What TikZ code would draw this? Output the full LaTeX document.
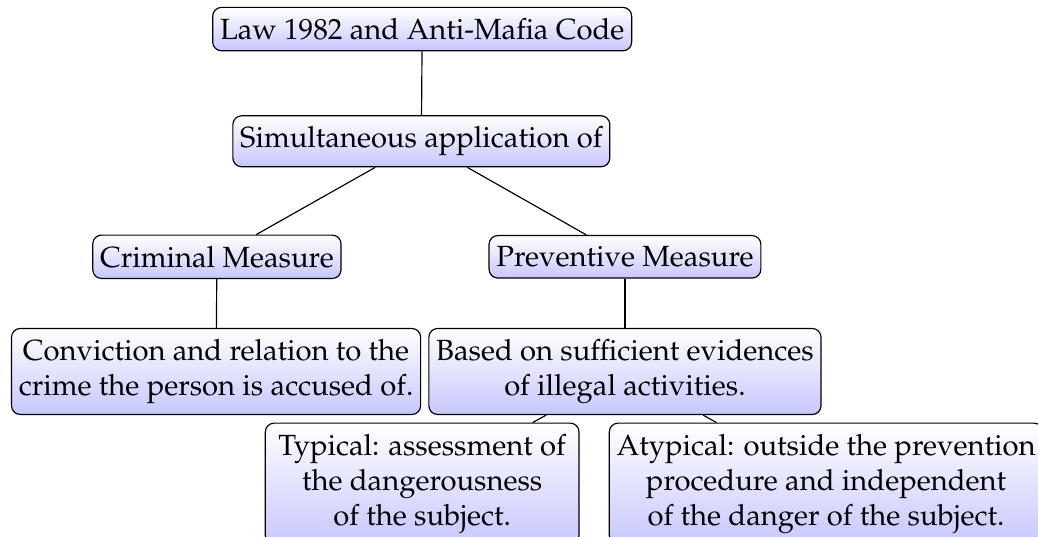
\documentclass[tikz,border=0pt]{standalone}
\usepackage[T1]{fontenc}
\usepackage{mathpazo}
\usepackage{tikz}

\tikzset{lawbox/.style={draw, rounded corners=3pt, top color=white, bottom color=blue!22, inner xsep=2.5pt, inner ysep=3.7pt, align=center, font=\fontsize{10}{12}\selectfont}}

\begin{document}
\begin{tikzpicture}
            \useasboundingbox (0,0) rectangle (12.49,-6.46);
            \clip (0,0) rectangle (12.49,-6.46);
            % top
            \node[lawbox] (law) at (5.08,-0.35) {Law 1982 and Anti-Mafia Code};
            \node[lawbox] (sim) at (5.07,-1.70) {Simultaneous application of};

            % measures
            \node[lawbox] (crim) at (2.61,-3.09) {Criminal Measure};
            \node[lawbox] (prev) at (7.52,-3.09) {Preventive Measure};

            % conditions
            \node[lawbox] (conv) at (2.60,-4.47) {Conviction and relation to the\\crime the person is accused of.};
            \node[lawbox] (based) at (7.52,-4.47) {Based on sufficient evidences\\of illegal activities.};
            \node[lawbox, inner xsep=4.5pt] (typ) at (5.08,-5.82) {Typical: assessment of\\the dangerousness\\of the subject.};
            \node[lawbox] (atyp) at (9.94,-5.82) {Atypical: outside the prevention\\procedure and independent\\of the danger of the subject.};

            % Links
            \draw (law) -- (sim);
            \draw (sim) -- (crim);
            \draw (sim) -- (prev);
            \draw (crim) -- (conv);
            \draw (prev) -- (based);
            \draw (based) -- (typ);
            \draw (based) -- (atyp);
\end{tikzpicture}
\end{document}
